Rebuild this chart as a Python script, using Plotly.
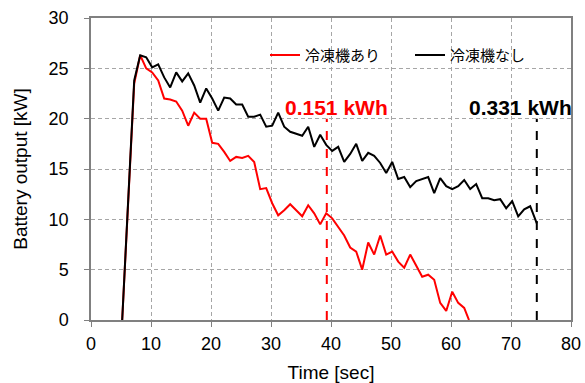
import plotly.graph_objects as go

# Time axis samples [sec]
time_with = [5.2, 7.2, 8.2, 9.2, 10.2, 11.2, 12.2, 13.2, 14.2, 15.2, 16.2, 17.2, 18.2, 19.2, 20.2,
             21.2, 22.2, 23.2, 24.2, 25.2, 26.2, 27.2, 28.2, 29.2, 30.2, 31.2, 32.2, 33.2, 34.2,
             35.2, 36.2, 37.2, 38.2, 39.2, 40.2, 41.2, 42.2, 43.2, 44.2, 45.2, 46.2, 47.2, 48.2,
             49.2, 50.2, 51.2, 52.2, 53.2, 54.2, 55.2, 56.2, 57.2, 58.2, 59.2, 60.2, 61.2, 62.2, 63.0]
power_with = [0.0, 23.5, 26.3, 25.0, 24.6, 23.8, 22.0, 21.9, 21.7, 20.8, 19.3, 20.6, 20.0, 20.0, 17.6,
              17.5, 16.7, 15.8, 16.2, 16.1, 16.3, 15.7, 13.0, 13.1, 11.6, 10.4, 10.9, 11.5, 10.9,
              10.3, 11.4, 10.6, 9.5, 10.6, 10.1, 9.3, 8.4, 7.2, 6.8, 5.0, 7.7, 6.5, 8.4,
              6.5, 6.8, 5.8, 5.2, 6.5, 5.4, 4.3, 4.5, 4.0, 1.7, 0.9, 2.8, 1.7, 1.2, 0.0]

time_without = [5.2, 7.2, 8.2, 9.2, 10.2, 11.2, 12.2, 13.2, 14.2, 15.2, 16.2, 17.2, 18.2, 19.2, 20.2,
                21.2, 22.2, 23.2, 24.2, 25.2, 26.2, 27.2, 28.2, 29.2, 30.2, 31.2, 32.2, 33.2, 34.2,
                35.2, 36.2, 37.2, 38.2, 39.2, 40.2, 41.2, 42.2, 43.2, 44.2, 45.2, 46.2, 47.2, 48.2,
                49.2, 50.2, 51.2, 52.2, 53.2, 54.2, 55.2, 56.2, 57.2, 58.2, 59.2, 60.2, 61.2, 62.2,
                63.2, 64.2, 65.2, 66.2, 67.2, 68.2, 69.2, 70.2, 71.2, 72.2, 73.2, 74.3]
power_without = [0.0, 23.8, 26.3, 26.1, 25.1, 25.4, 24.1, 23.1, 24.6, 23.7, 24.5, 23.3, 21.6, 23.0, 22.0,
                 20.8, 22.1, 22.0, 21.4, 21.4, 20.2, 20.2, 20.4, 19.2, 19.3, 20.6, 19.2, 18.7, 18.5,
                 18.3, 19.2, 17.2, 18.4, 17.4, 16.8, 17.2, 15.7, 16.5, 17.5, 15.8, 16.6, 16.3, 15.6,
                 14.6, 15.7, 14.0, 14.2, 13.2, 13.8, 14.0, 14.2, 12.6, 14.1, 13.3, 13.0, 13.3, 13.9,
                 13.0, 13.5, 12.1, 12.1, 11.9, 12.0, 11.1, 11.8, 10.3, 11.0, 11.3, 9.6]

series_names = ["冷凍機あり", "冷凍機なし"]
energy_labels = ["0.151 kWh", "0.331 kWh"]
marker_times = [39.3, 74.3]
marker_top = 20.0
label_pos = [(40.9, 21.1), (71.5, 21.1)]

x_ticks = [0, 10, 20, 30, 40, 50, 60, 70, 80]
y_ticks = [0, 5, 10, 15, 20, 25, 30]

colors = ["#ff0000", "#000000"]
FONT = "Liberation Sans, Arial, sans-serif"

fig = go.Figure()
fig.add_trace(go.Scatter(x=time_with, y=power_with, mode="lines", name=series_names[0],
                         line=dict(color=colors[0], width=2)))
fig.add_trace(go.Scatter(x=time_without, y=power_without, mode="lines", name=series_names[1],
                         line=dict(color=colors[1], width=2)))

for i in range(2):
    fig.add_trace(go.Scatter(x=[marker_times[i], marker_times[i]], y=[0, marker_top], mode="lines",
                             showlegend=False, hoverinfo="skip",
                             line=dict(color=colors[i], width=2, dash="dash")))
    fig.add_annotation(x=label_pos[i][0], y=label_pos[i][1], text="<b>" + energy_labels[i] + "</b>",
                       showarrow=False, font=dict(color=colors[i], size=21, family=FONT))

axis_common = dict(showline=True, linecolor="#808080", linewidth=1.5, mirror=True,
                   showgrid=True, gridcolor="#a6a6a6", griddash="4px,3px", gridwidth=1,
                   ticks="outside", ticklen=5, tickcolor="#808080", zeroline=False,
                   automargin=False,
                   tickfont=dict(size=18, color="#000000", family=FONT))

fig.update_xaxes(range=[0, 80], tickvals=x_ticks,
                 title=dict(text="Time [sec]", font=dict(size=19, family=FONT), standoff=12),
                 ticklabelstandoff=2, **axis_common)
fig.update_yaxes(range=[0, 30], tickvals=y_ticks,
                 title=dict(text="Battery output [kW]", font=dict(size=19, family=FONT), standoff=16),
                 ticklabelstandoff=12, **axis_common)

fig.update_layout(width=585, height=383, margin=dict(l=91, r=14, t=18, b=63),
                  paper_bgcolor="white", plot_bgcolor="white",
                  font=dict(family="Liberation Sans, Arial, Noto Sans CJK JP, sans-serif", color="#000000"),
                  legend=dict(orientation="h", x=0.3625, y=0.877, xanchor="left", yanchor="middle",
                              bgcolor="rgba(255,255,255,0)", font=dict(size=15),
                              itemwidth=30, tracegroupgap=0, entrywidth=100),
                  showlegend=True)

fig.write_html("out.html", config={"displayModeBar": False},
               post_script="document.body.style.margin='0px';document.body.style.overflow='hidden';")
